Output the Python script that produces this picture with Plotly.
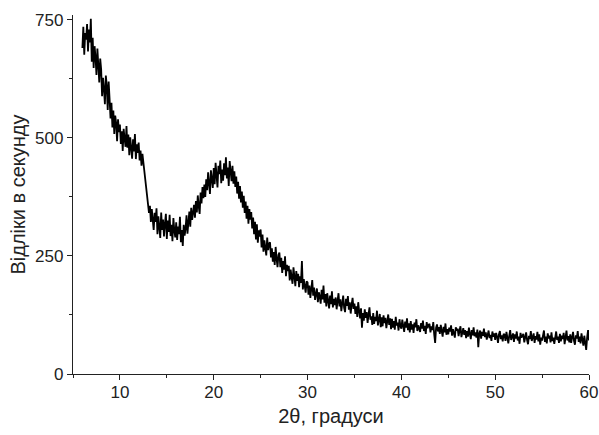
import plotly.graph_objects as go

# 2theta start/step (degrees) and counts per second (one row per degree)
two_theta_start = 6.0
two_theta_step = 0.1
counts_rows = [
    [690, 735, 676, 722, 708, 741, 683, 729, 702, 752],   # 6
    [661, 712, 648, 694, 671, 633, 689, 652, 617, 668],   # 7
    [645, 588, 627, 603, 571, 632, 610, 559, 619, 582],   # 8
    [541, 574, 522, 558, 508, 547, 531, 493, 539, 512],   # 9
    [528, 487, 514, 472, 519, 498, 481, 525, 479, 507],   # 10
    [463, 501, 482, 456, 497, 471, 508, 455, 486, 468],   # 11
    [490, 452, 473, 441, 466, 449, 425, 408, 391, 377],   # 12
    [365, 341, 356, 322, 349, 327, 305, 341, 322, 351],   # 13
    [296, 334, 311, 288, 342, 305, 327, 291, 318, 339],   # 14
    [286, 325, 301, 337, 292, 316, 281, 330, 304, 289],   # 15
    [321, 284, 312, 296, 333, 279, 305, 271, 316, 293],   # 16
    [308, 336, 297, 321, 344, 312, 352, 326, 339, 358],   # 17
    [331, 366, 342, 378, 355, 339, 384, 361, 396, 372],   # 18
    [401, 375, 412, 389, 427, 398, 381, 431, 408, 394],   # 19
    [436, 402, 447, 418, 395, 441, 423, 452, 404, 433],   # 20
    [409, 446, 421, 459, 414, 437, 398, 451, 426, 408],   # 21
    [441, 403, 429, 396, 418, 382, 407, 371, 398, 363],   # 22
    [386, 352, 377, 341, 365, 329, 356, 318, 349, 327],   # 23
    [343, 308, 331, 296, 322, 285, 317, 278, 304, 291],   # 24
    [306, 268, 295, 259, 283, 271, 251, 289, 262, 276],   # 25
    [279, 247, 266, 238, 258, 231, 269, 244, 226, 252],   # 26
    [257, 226, 246, 214, 239, 221, 249, 207, 231, 218],   # 27
    [229, 198, 221, 205, 191, 226, 209, 186, 218, 197],   # 28
    [212, 184, 207, 193, 239, 179, 201, 188, 172, 196],   # 29
    [194, 168, 187, 161, 178, 199, 166, 183, 157, 175],   # 30
    [181, 152, 173, 164, 149, 178, 158, 187, 151, 169],   # 31
    [143, 171, 152, 139, 166, 148, 175, 141, 159, 146],   # 32
    [162, 137, 155, 171, 143, 158, 133, 149, 166, 140],   # 33
    [131, 159, 144, 165, 136, 152, 128, 147, 161, 138],   # 34
    [149, 127, 143, 121, 152, 133, 118, 139, 98, 129],    # 35
    [113, 137, 119, 131, 108, 126, 141, 115, 122, 104],   # 36
    [129, 106, 121, 112, 134, 103, 117, 127, 99, 120],    # 37
    [101, 124, 108, 119, 97, 115, 126, 104, 118, 95],     # 38
    [117, 98, 112, 94, 121, 103, 109, 92, 116, 101],      # 39
    [96, 115, 102, 89, 111, 98, 118, 93, 107, 88],        # 40
    [112, 94, 105, 87, 109, 99, 116, 91, 103, 95],        # 41
    [89, 108, 96, 113, 91, 102, 85, 110, 97, 104],        # 42
    [106, 88, 101, 93, 110, 84, 66, 98, 105, 90],         # 43
    [99, 85, 104, 91, 79, 100, 88, 107, 83, 95],          # 44
    [84, 98, 90, 103, 81, 95, 87, 77, 99, 92],            # 45
    [96, 80, 92, 101, 78, 89, 97, 83, 93, 76],            # 46
    [91, 79, 98, 85, 74, 93, 82, 99, 80, 88],             # 47
    [77, 94, 57, 86, 92, 75, 89, 81, 96, 78],             # 48
    [88, 73, 85, 92, 76, 83, 70, 90, 79, 86],             # 49
    [72, 87, 79, 66, 84, 91, 74, 82, 69, 85],             # 50
    [83, 70, 89, 76, 65, 81, 93, 72, 78, 86],             # 51
    [68, 84, 75, 90, 71, 79, 64, 87, 77, 82],             # 52
    [85, 67, 79, 88, 72, 63, 81, 74, 91, 70],             # 53
    [78, 86, 66, 80, 73, 89, 69, 84, 62, 77],             # 54
    [71, 83, 92, 68, 79, 65, 86, 75, 81, 67],             # 55
    [88, 70, 77, 64, 83, 90, 72, 79, 66, 85],             # 56
    [69, 81, 74, 87, 63, 78, 92, 71, 80, 67],             # 57
    [84, 66, 76, 89, 70, 62, 82, 75, 91, 68],             # 58
    [79, 65, 86, 73, 60, 81, 70, 51, 77, 93],             # 59
    [71],                                                 # 60
]
x_ticks = [10, 20, 30, 40, 50, 60]
y_ticks = [0, 250, 500, 750]

counts = [v for row in counts_rows for v in row]
two_theta = [round(two_theta_start + i * two_theta_step, 2) for i in range(len(counts))]

fig = go.Figure()
fig.add_trace(go.Scatter(
    x=two_theta, y=counts, mode="lines",
    line=dict(color="black", width=1.8),
    showlegend=False, hoverinfo="skip",
))

font_family = "Arial, 'Liberation Sans', sans-serif"
ink = "#222"
fig.update_layout(
    width=599, height=435,
    margin=dict(l=73, r=10, t=15, b=61, autoexpand=False),
    paper_bgcolor="white", plot_bgcolor="white",
    font=dict(family=font_family, size=17, color=ink),
)
common = dict(
    ticks="outside", ticklen=5, tickwidth=1.2, tickcolor=ink,
    showline=True, linecolor=ink, linewidth=1.3,
    showgrid=False, zeroline=False, automargin=False,
    tickfont=dict(size=17, color=ink, family=font_family),
)
fig.update_xaxes(
    range=[5, 60], tickvals=x_ticks,
    minor=dict(dtick=5, tick0=0, ticks="outside", ticklen=3, tickcolor=ink, showgrid=False),
    title=dict(text="2θ, градуси", font=dict(size=20, family=font_family, color=ink), standoff=8),
    ticklabelstandoff=-3,
    **common,
)
fig.update_yaxes(
    range=[0, 760], tickvals=y_ticks,
    minor=dict(dtick=125, tick0=0, ticks="outside", ticklen=3, tickcolor=ink, showgrid=False),
    title=dict(text="Відліки в секунду", font=dict(size=20, family=font_family, color=ink), standoff=4),
    **common,
)

fig.write_html("out.html", config={"displayModeBar": False},
               post_script="document.body.style.margin='0';")
